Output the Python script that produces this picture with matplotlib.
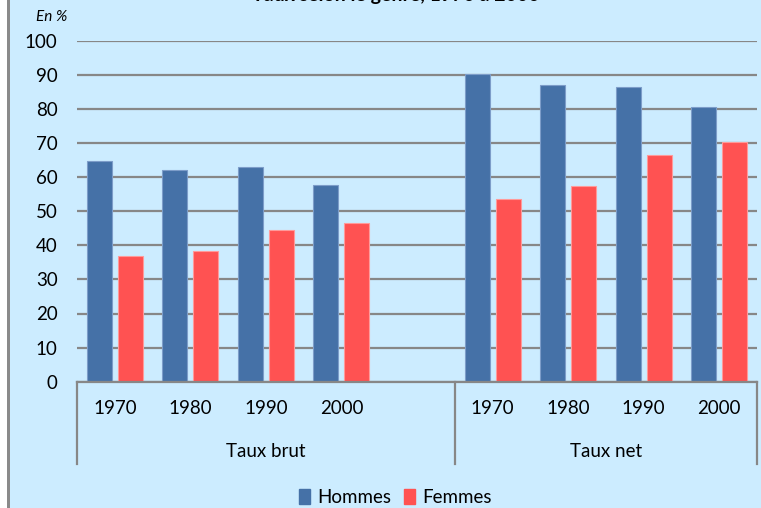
import numpy as np
import matplotlib
matplotlib.use('Agg')
import matplotlib.pyplot as plt
from matplotlib.patches import Rectangle, Patch

plt.rcParams['font.family'] = ['Lato', 'DejaVu Sans']

# data
years = ['1970', '1980', '1990', '2000']
groups = ['Taux brut', 'Taux net']
hommes_brut = [64.7, 62.1, 63.0, 57.8]
femmes_brut = [36.9, 38.2, 44.6, 46.4]
hommes_net = [90.2, 86.9, 86.3, 80.6]
femmes_net = [53.5, 57.3, 66.4, 70.2]
series = ['Hommes', 'Femmes']
yticks = list(range(0, 101, 10))

bg = '#CCECFF'
grid_col = '#878787'
c_h = '#4571A7'
c_f = '#FF5252'

fig = plt.figure(figsize=(7.61, 5.08), dpi=100, facecolor=bg)
# white strip + grey frame line on the left edge
fig.patches.append(Rectangle((0, 0), 7 / 761, 1, transform=fig.transFigure,
                             facecolor='white', edgecolor='none', zorder=0))
fig.patches.append(Rectangle((7 / 761, 0), 2.5 / 761, 1, transform=fig.transFigure,
                             facecolor='#8a8a8a', edgecolor='none', zorder=0))

ax = fig.add_axes([77 / 761, 126.3 / 508, 680 / 761, 341 / 508])
ax.set_facecolor(bg)

# left group at 0..3, empty slot at 4, right group at 5..8
pos_brut = np.arange(len(years))
pos_net = np.arange(len(years)) + len(years) + 1
w = 0.33
off = 0.205

ax.bar(pos_brut - off, hommes_brut, w, color=c_h, edgecolor='#7d9dc9', linewidth=0.8, zorder=3)
ax.bar(pos_brut + off, femmes_brut, w, color=c_f, edgecolor='#ff9a9a', linewidth=0.8, zorder=3)
ax.bar(pos_net - off, hommes_net, w, color=c_h, edgecolor='#7d9dc9', linewidth=0.8, zorder=3)
ax.bar(pos_net + off, femmes_net, w, color=c_f, edgecolor='#ff9a9a', linewidth=0.8, zorder=3)

ax.set_xlim(-0.5, pos_net[-1] + 0.5)
ax.set_ylim(0, 100)
ax.set_yticks(yticks)
ax.tick_params(axis='y', length=0, pad=14, labelsize=13.5)
ax.set_xticks([])
ax.grid(axis='y', color=grid_col, linewidth=1.6, zorder=1)
for s in ['left', 'right', 'top']:
    ax.spines[s].set_visible(False)
ax.spines['bottom'].set_color(grid_col)
ax.spines['bottom'].set_linewidth(1.6)
ax.spines['bottom'].set_zorder(4)

# multi-level category axis
trans = ax.get_xaxis_transform()
for xs in [-0.5, len(years) + 0.5, pos_net[-1] + 0.5]:
    ax.plot([xs, xs], [0, -0.241], transform=trans, color=grid_col,
            linewidth=1.6, clip_on=False)
for p, y in zip(list(pos_brut) + list(pos_net), years + years):
    ax.text(p, -0.079, y, transform=trans, ha='center', va='center', fontsize=13.5)
ax.text((-0.5 + len(years) + 0.5) / 2, -0.205, groups[0], transform=trans,
        ha='center', va='center', fontsize=13.5)
ax.text((len(years) + 0.5 + pos_net[-1] + 0.5) / 2, -0.205, groups[1], transform=trans,
        ha='center', va='center', fontsize=13.5)

handles = [Patch(color=c_h, label=series[0]), Patch(color=c_f, label=series[1])]
ax.legend(handles=handles, loc='center', bbox_to_anchor=(0.468, -0.34), ncol=2,
          frameon=False, fontsize=13.5, handlelength=0.6, handleheight=0.8,
          handletextpad=0.35, columnspacing=0.7)

ax.text(-0.037, 1.07, 'En %', transform=ax.transAxes, ha='center', va='center',
        fontsize=11, style='italic')

# title mostly cut off at the top edge
fig.text(396 / 761, 0.9975, 'Taux selon le genre, 1970 à 2000', ha='center',
         va='baseline', fontsize=14, fontweight='bold')

fig.savefig('out.png', dpi=100, facecolor=bg)
